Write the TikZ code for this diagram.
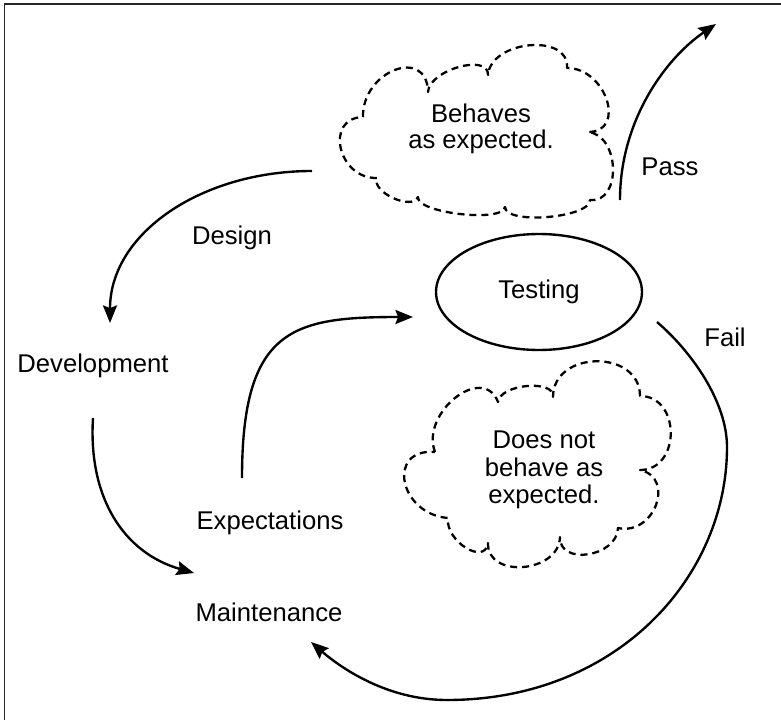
\documentclass[tikz,border=0pt]{standalone}
\usepackage{fontspec}
\setmainfont{Liberation Sans}
\usetikzlibrary{arrows.meta,shapes.geometric}
\tikzset{
  lbl/.style={font=\fontsize{14.6}{15.5}\selectfont,inner sep=0pt},
  flow/.style={line width=1.35pt,-{Stealth[length=10pt,width=8pt,inset=1.5pt]}},
  cloudline/.style={line width=1.3pt,dash pattern=on 4pt off 2.8pt,line join=round}
}
\begin{document}
\begin{tikzpicture}[x=0.02cm,y=-0.02cm]
\useasboundingbox (0,0) rectangle (781,720);
\draw[line width=1.1pt,black!85] (4.5,720) -- (4.5,4) -- (781,4);

\draw[cloudline] (363,117)
  .. controls +(-1,-46) and +(-1,-46) .. (428,92)
  .. controls +(1,-22) and +(1,-22) .. (488,75)
  .. controls +(3,-35) and +(3,-35) .. (567,68)
  .. controls +(39,0) and +(39,0) .. (588,132)
  .. controls +(32,3) and +(32,3) .. (590,200)
  .. controls +(0,18) and +(0,18) .. (505,207)
  .. controls +(-2,16) and +(-2,16) .. (418,197)
  .. controls +(-6,14) and +(-6,14) .. (377,178)
  .. controls +(-39,1) and +(-39,1) .. (363,117);
\draw[cloudline] (435,452)
  .. controls +(-15,-39) and +(-15,-39) .. (498,402)
  .. controls +(2,-18) and +(2,-18) .. (553,397)
  .. controls +(0,-47) and +(0,-47) .. (640,396)
  .. controls +(41,0) and +(41,0) .. (640,470)
  .. controls +(36,8) and +(36,8) .. (618,528)
  .. controls +(-1,29) and +(-1,29) .. (560,537)
  .. controls +(-1,36) and +(-1,36) .. (488,543)
  .. controls +(-3,23) and +(-3,23) .. (448,518)
  .. controls +(-49,-4) and +(-49,-4) .. (435,452);

\node[lbl,align=center] (behaves) at (481,129) {Behaves\\[-0.5pt]as expected.};
\node[lbl,align=center] (notbehave) at (544,470) {Does not\\behave as\\expected.};
\node[lbl] (design) at (232,238) {Design};
\node[lbl] (development) at (93,366) {Development};
\node[lbl] (expectations) at (270,523) {Expectations};
\node[lbl] (maintenance) at (269,612) {Maintenance};
\node[lbl] (pass) at (670,167) {Pass};
\node[lbl] (fail) at (725,337) {Fail};
\node[lbl,draw,ellipse,line width=1.35pt,minimum width=4.12cm,minimum height=2.32cm] (testing) at (539,292) {Testing};

\coordinate (design-s) at (312,171);
\coordinate (design-e) at (110,323);
\coordinate (dev-s) at (93,418);
\coordinate (maint-e) at (194,573);
\coordinate (exp-s) at (242,478);
\coordinate (test-w) at (413,317);
\coordinate (pass-s) at (620,200);
\coordinate (pass-e) at (716,24);
\coordinate (fail-s) at (657,322);
\coordinate (fail-r) at (727,447);
\coordinate (fail-b) at (447,700);
\coordinate (fail-e) at (311,642);

\draw[flow] (design-s) .. controls +(-110,0) and +(0,-90) .. (design-e);
\draw[flow] (dev-s) .. controls +(-5,80) and +(-70,-20) .. (maint-e);
\draw[flow] (exp-s) .. controls +(0,-150) and +(-120,0) .. (test-w);
\draw[flow] (pass-s) .. controls +(0,-80) and +(-50,34) .. (pass-e);
\draw[flow] (fail-s) .. controls +(35,30) and +(0,-45) .. (fail-r)
  .. controls +(0,130) and +(170,0) .. (fail-b)
  .. controls +(-60,0) and +(30,26) .. (fail-e);
\end{tikzpicture}
\end{document}
